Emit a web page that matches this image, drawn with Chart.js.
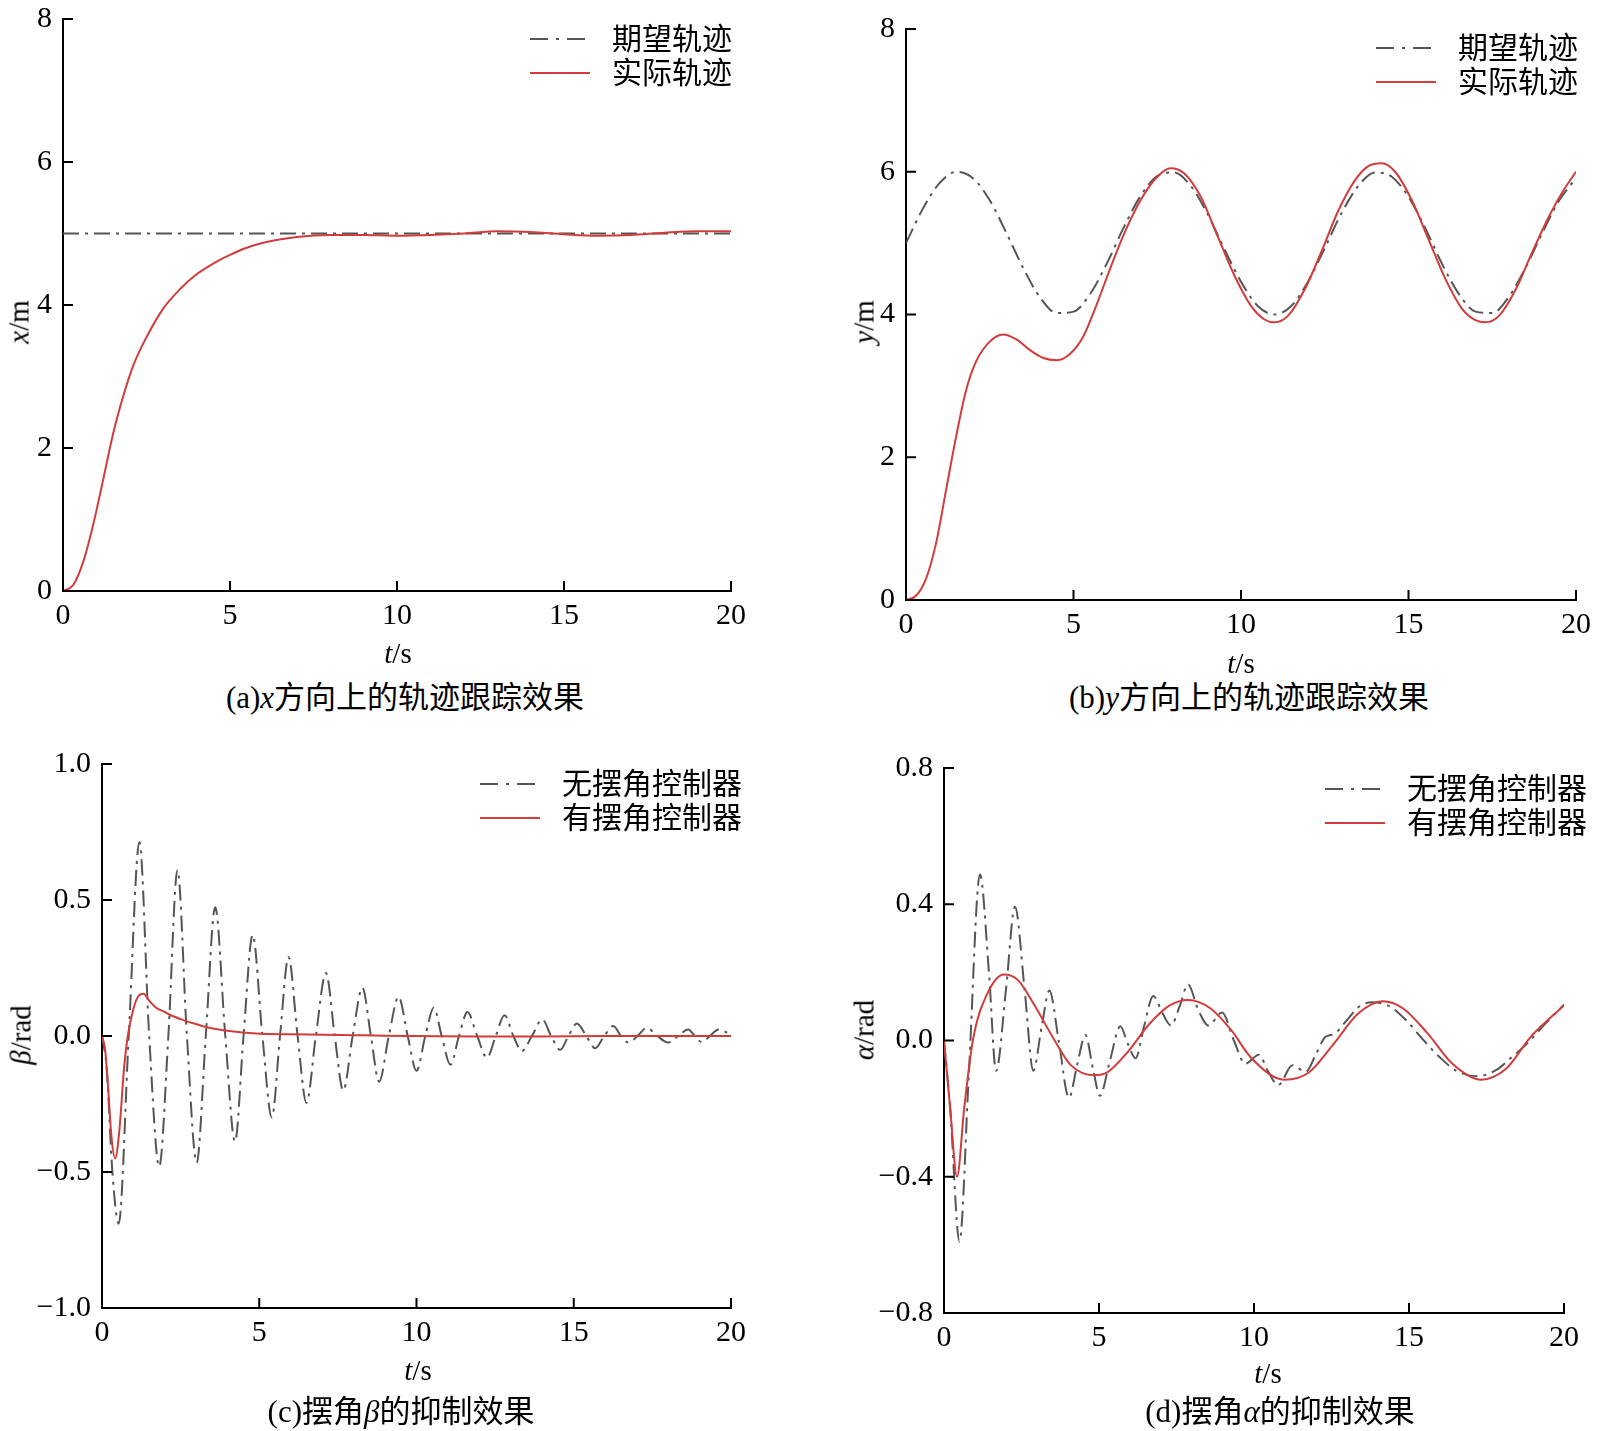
<!DOCTYPE html>
<html><head><meta charset="utf-8">
<script src="https://cdn.jsdelivr.net/npm/chart.js@4/dist/chart.umd.min.js"></script>
<style>
html,body{margin:0;padding:0;background:#fff;}
body{width:1598px;height:1431px;position:relative;overflow:hidden;font-family:"Liberation Serif","Noto Sans CJK SC",serif;color:#000;}
.box{position:absolute;}
.txt{position:absolute;white-space:nowrap;line-height:1;}
.cap{font-size:31px;transform:translate(-50%,-50%);}
.xt{font-size:29px;transform:translate(-50%,-50%);}
.yt{font-size:29px;transform:translate(-50%,-50%) rotate(-90deg);}
.leg{position:absolute;font-size:30px;line-height:1;white-space:nowrap;}
.leg .row{display:flex;align-items:center;height:34px;}
.leg svg{margin-right:22px;}
</style></head>
<body>
<div id="pa" class="box"><canvas id="ca"></canvas></div>
<div id="pb" class="box"><canvas id="cb"></canvas></div>
<div id="pc" class="box"><canvas id="cc"></canvas></div>
<div id="pd" class="box"><canvas id="cd"></canvas></div>

<div class="txt yt" style="left:19px;top:322px;"><i>x</i>/m</div>
<div class="txt yt" style="left:864px;top:322px;"><i>y</i>/m</div>
<div class="txt yt" style="left:21px;top:1035px;"><i>β</i>/rad</div>
<div class="txt yt" style="left:864px;top:1030px;"><i>α</i>/rad</div>

<div class="txt xt" style="left:398px;top:653px;"><i>t</i>/s</div>
<div class="txt xt" style="left:1241px;top:663px;"><i>t</i>/s</div>
<div class="txt xt" style="left:418px;top:1370px;"><i>t</i>/s</div>
<div class="txt xt" style="left:1268px;top:1373px;"><i>t</i>/s</div>

<div class="txt cap" style="left:405px;top:697px;">(a)<i>x</i>方向上的轨迹跟踪效果</div>
<div class="txt cap" style="left:1249px;top:697px;">(b)<i>y</i>方向上的轨迹跟踪效果</div>
<div class="txt cap" style="left:401px;top:1411px;">(c)摆角<i>β</i>的抑制效果</div>
<div class="txt cap" style="left:1280px;top:1411px;">(d)摆角<i>α</i>的抑制效果</div>

<div class="leg" style="left:530px;top:22px;">
 <div class="row"><svg width="60" height="4"><line x1="0" y1="2" x2="60" y2="2" stroke="#555" stroke-width="2" stroke-dasharray="18 8 3 8"/></svg>期望轨迹</div>
 <div class="row"><svg width="60" height="4"><line x1="0" y1="2" x2="60" y2="2" stroke="#d23c3c" stroke-width="2"/></svg>实际轨迹</div>
</div>
<div class="leg" style="left:1376px;top:31px;">
 <div class="row"><svg width="60" height="4"><line x1="0" y1="2" x2="60" y2="2" stroke="#555" stroke-width="2" stroke-dasharray="18 8 3 8"/></svg>期望轨迹</div>
 <div class="row"><svg width="60" height="4"><line x1="0" y1="2" x2="60" y2="2" stroke="#d23c3c" stroke-width="2"/></svg>实际轨迹</div>
</div>
<div class="leg" style="left:480px;top:767px;">
 <div class="row"><svg width="60" height="4"><line x1="0" y1="2" x2="60" y2="2" stroke="#555" stroke-width="2" stroke-dasharray="18 8 3 8"/></svg>无摆角控制器</div>
 <div class="row"><svg width="60" height="4"><line x1="0" y1="2" x2="60" y2="2" stroke="#d23c3c" stroke-width="2"/></svg>有摆角控制器</div>
</div>
<div class="leg" style="left:1325px;top:772px;">
 <div class="row"><svg width="60" height="4"><line x1="0" y1="2" x2="60" y2="2" stroke="#555" stroke-width="2" stroke-dasharray="18 8 3 8"/></svg>无摆角控制器</div>
 <div class="row"><svg width="60" height="4"><line x1="0" y1="2" x2="60" y2="2" stroke="#d23c3c" stroke-width="2"/></svg>有摆角控制器</div>
</div>

<script>
// ---------- data ----------
const xTicks = [0, 5, 10, 15, 20];
const posTicks = [0, 2, 4, 6, 8];
const betaTicks = [-1.0, -0.5, 0.0, 0.5, 1.0];
const alphaTicks = [-0.8, -0.4, 0.0, 0.4, 0.8];

// (a) x direction
const aDesiredT = [0, 20];
const aDesiredV = [5, 5];
const aActualT = [0, 0.3, 0.6, 0.9, 1.2, 1.5, 1.8, 2.1, 2.5, 3.0, 3.5, 4.0, 4.5, 5.0, 5.5, 6.0, 7.0, 8.0, 9.0, 10.0, 11.0, 12.0, 13.0, 14.0, 15.0, 16.0, 17.0, 18.0, 19.0, 20.0];
const aActualV = [0, 0.08, 0.4, 0.92, 1.55, 2.2, 2.72, 3.15, 3.55, 3.95, 4.22, 4.43, 4.58, 4.7, 4.8, 4.87, 4.95, 4.98, 4.98, 4.97, 4.98, 5.0, 5.03, 5.02, 4.99, 4.97, 4.98, 5.01, 5.03, 5.03];

// (b) y direction
const bDesiredT = [0, 0.5, 1, 1.5, 2, 2.5, 3, 3.5, 4, 4.5, 5, 5.5, 6, 6.5, 7, 7.5, 8, 8.5, 9, 9.5, 10, 10.5, 11, 11.5, 12, 12.5, 13, 13.5, 14, 14.5, 15, 15.5, 16, 16.5, 17, 17.5, 18, 18.5, 19, 19.5, 20];
const bDesiredV = [5.0, 5.48, 5.84, 6.0, 5.91, 5.6, 5.14, 4.65, 4.24, 4.02, 4.04, 4.29, 4.72, 5.22, 5.66, 5.94, 5.99, 5.8, 5.41, 4.92, 4.46, 4.12, 4.0, 4.12, 4.46, 4.93, 5.42, 5.8, 5.99, 5.93, 5.65, 5.21, 4.71, 4.29, 4.04, 4.02, 4.25, 4.66, 5.15, 5.6, 5.91];
const bActualT = [0, 0.3, 0.6, 0.9, 1.2, 1.5, 1.8, 2.1, 2.5, 2.9, 3.3, 3.7, 4.1, 4.5, 4.9, 5.3, 5.7, 6.1, 6.5, 7.0, 7.5, 7.9, 8.3, 8.8, 9.3, 9.8, 10.3, 10.7, 11.0, 11.4, 11.9, 12.4, 12.9, 13.4, 13.8, 14.2, 14.6, 15.1, 15.6, 16.1, 16.6, 17.0, 17.3, 17.7, 18.2, 18.7, 19.2, 19.6, 20.0];
const bActualV = [0, 0.06, 0.3, 0.8, 1.55, 2.3, 2.95, 3.35, 3.62, 3.72, 3.65, 3.5, 3.39, 3.36, 3.45, 3.7, 4.15, 4.65, 5.12, 5.6, 5.93, 6.05, 5.98, 5.65, 5.1, 4.55, 4.12, 3.93, 3.89, 3.98, 4.35, 4.88, 5.45, 5.88, 6.08, 6.12, 6.0, 5.6, 5.05, 4.5, 4.08, 3.92, 3.89, 3.98, 4.35, 4.88, 5.38, 5.72, 6.0];

// (c) swing angle beta
const cNoCtrlT = [0, 0.15, 0.33, 0.53, 0.85, 1.19, 1.5, 1.82, 2.11, 2.40, 2.7, 3.01, 3.3, 3.60, 3.92, 4.23, 4.5, 4.79, 5.1, 5.40, 5.66, 5.93, 6.22, 6.50, 6.8, 7.12, 7.4, 7.67, 7.97, 8.28, 8.55, 8.81, 9.12, 9.43, 9.72, 10.0, 10.28, 10.55, 10.8, 11.08, 11.35, 11.62, 11.93, 12.24, 12.52, 12.8, 13.08, 13.35, 13.67, 14.0, 14.28, 14.57, 14.83, 15.1, 15.4, 15.68, 15.97, 16.26, 16.5, 16.74, 17.03, 17.32, 17.66, 18.0, 18.32, 18.64, 18.85, 19.07, 19.33, 19.6, 20.0];
const cNoCtrlV = [0, -0.12, -0.5, -0.69, 0, 0.713, 0, -0.48, 0, 0.61, 0, -0.466, 0, 0.473, 0, -0.388, 0, 0.372, 0, -0.30, 0, 0.29, 0, -0.246, 0, 0.232, 0, -0.20, 0, 0.177, 0, -0.168, 0, 0.144, 0, -0.128, 0, 0.105, 0, -0.106, 0, 0.088, 0, -0.08, 0, 0.076, 0, -0.055, 0, 0.061, 0, -0.051, 0, 0.046, 0, -0.045, 0, 0.037, 0, -0.024, 0, 0.03, 0, -0.024, 0, 0.024, 0, -0.022, 0, 0.024, 0.005];
const cCtrlT = [0, 0.1, 0.2, 0.3, 0.42, 0.55, 0.7, 0.82, 1.0, 1.15, 1.32, 1.5, 1.72, 2.0, 2.14, 2.5, 2.78, 3.4, 4.05, 4.9, 6.0, 7.0, 8.0, 9.0, 10.0, 12.0, 14.0, 16.0, 18.0, 20.0];
const cCtrlV = [0, -0.05, -0.2, -0.37, -0.45, -0.35, -0.12, 0.0, 0.1, 0.145, 0.155, 0.13, 0.104, 0.088, 0.079, 0.062, 0.051, 0.03, 0.018, 0.009, 0.006, 0.005, 0.003, 0.001, 0, -0.002, -0.002, 0, 0, 0];

// (d) swing angle alpha
const dNoCtrlT = [0, 0.2, 0.5, 0.8, 1.16, 1.45, 1.68, 2.0, 2.29, 2.6, 2.88, 3.15, 3.4, 3.7, 4.03, 4.3, 4.56, 4.8, 5.03, 5.35, 5.69, 5.93, 6.18, 6.45, 6.75, 7.05, 7.32, 7.6, 7.87, 8.2, 8.53, 8.97, 9.35, 9.72, 10.16, 10.45, 10.78, 11.24, 11.67, 12.0, 12.3, 12.6, 13.0, 13.4, 13.82, 14.4, 14.9, 15.48, 16.0, 16.53, 17.2, 17.86, 18.3, 18.8, 19.4, 20.0];
const dNoCtrlV = [0, -0.2, -0.59, -0.1, 0.487, 0.2, -0.089, 0.15, 0.393, 0.15, -0.089, 0.04, 0.147, 0.0, -0.168, -0.07, 0.016, -0.08, -0.162, -0.06, 0.042, -0.01, -0.052, 0.04, 0.131, 0.08, 0.044, 0.1, 0.165, 0.09, 0.044, 0.082, 0.0, -0.068, -0.042, -0.09, -0.131, -0.073, -0.092, -0.04, 0.01, 0.02, 0.06, 0.1, 0.112, 0.099, 0.06, 0.0, -0.05, -0.089, -0.105, -0.084, -0.05, -0.01, 0.05, 0.105];
const dCtrlT = [0, 0.2, 0.42, 0.65, 0.93, 1.39, 1.94, 2.38, 2.91, 3.57, 4.1, 4.83, 5.29, 5.95, 6.61, 7.28, 7.87, 8.6, 9.26, 9.92, 10.98, 11.77, 12.57, 13.36, 14.15, 14.81, 15.6, 16.4, 17.33, 18.12, 18.92, 20.0];
const dCtrlV = [0, -0.2, -0.40, -0.2, 0.0, 0.136, 0.194, 0.178, 0.105, 0.0, -0.073, -0.102, -0.092, -0.031, 0.047, 0.103, 0.119, 0.094, 0.031, -0.052, -0.115, -0.094, -0.01, 0.079, 0.115, 0.094, 0.021, -0.068, -0.115, -0.084, 0.01, 0.103];

// ---------- drawing ----------
const RED = '#d23c3c', GRAY = '#555555';
const PADL = 70, PADT = 40, PADR = 40, PADB = 48;
const FONT = "'Liberation Serif', 'Times New Roman', serif";

const innerTicks = {
  id: 'innerTicks',
  afterDraw(chart) {
    const ctx = chart.ctx, ca = chart.chartArea;
    const xs = chart.scales.x, ys = chart.scales.y;
    ctx.save();
    ctx.strokeStyle = '#000';
    ctx.lineWidth = 2;
    xs.ticks.forEach(t => {
      const px = xs.getPixelForValue(t.value);
      ctx.beginPath(); ctx.moveTo(px, ca.bottom); ctx.lineTo(px, ca.bottom - 10); ctx.stroke();
    });
    ys.ticks.forEach(t => {
      const py = ys.getPixelForValue(t.value);
      ctx.beginPath(); ctx.moveTo(ca.left, py); ctx.lineTo(ca.left + 10, py); ctx.stroke();
    });
    ctx.restore();
  }
};

function pts(T, V) { return T.map((t, i) => ({ x: t, y: V[i] })); }

function fmtY(decimals) {
  return v => {
    if (Math.abs(v) < 1e-9) return decimals ? (0).toFixed(decimals) : '0';
    const s = Math.abs(v).toFixed(decimals);
    return v < 0 ? '\u2212' + s : s;
  };
}

function makePanel(boxId, canvasId, area, yT, decimals, actualT, actualV, refT, refV) {
  const box = document.getElementById(boxId);
  box.style.left = (area.l - PADL) + 'px';
  box.style.top = (area.t - PADT) + 'px';
  box.style.width = (area.r - area.l + PADL + PADR) + 'px';
  box.style.height = (area.b - area.t + PADT + PADB) + 'px';
  new Chart(document.getElementById(canvasId), {
    type: 'line',
    data: {
      datasets: [
        { data: pts(actualT, actualV), borderColor: RED, borderWidth: 2, pointRadius: 0, cubicInterpolationMode: 'monotone', fill: false },
        { data: pts(refT, refV), borderColor: GRAY, borderWidth: 2, borderDash: [16, 6, 3, 6], pointRadius: 0, cubicInterpolationMode: 'monotone', fill: false }
      ]
    },
    options: {
      responsive: true, maintainAspectRatio: false, animation: false,
      layout: { padding: { left: 0, top: PADT, right: PADR, bottom: 0 } },
      plugins: { legend: { display: false }, tooltip: { enabled: false } },
      scales: {
        x: {
          type: 'linear', min: xTicks[0], max: xTicks[xTicks.length - 1],
          afterFit: s => { s.height = PADB; },
          afterBuildTicks: s => { s.ticks = xTicks.map(v => ({ value: v })); },
          ticks: { color: '#000', font: { family: FONT, size: 30 }, padding: 7, maxRotation: 0, callback: v => String(v) },
          grid: { drawOnChartArea: false, drawTicks: false },
          border: { display: true, color: '#000', width: 2 }
        },
        y: {
          type: 'linear', min: yT[0], max: yT[yT.length - 1],
          afterFit: s => { s.width = PADL; },
          afterBuildTicks: s => { s.ticks = yT.map(v => ({ value: v })); },
          ticks: { color: '#000', font: { family: FONT, size: 30 }, padding: 11, callback: fmtY(decimals) },
          grid: { drawOnChartArea: false, drawTicks: false },
          border: { display: true, color: '#000', width: 2 }
        }
      }
    },
    plugins: [innerTicks]
  });
}

makePanel('pa', 'ca', { l: 63, r: 731, t: 19, b: 591 }, posTicks, 0, aActualT, aActualV, aDesiredT, aDesiredV);
makePanel('pb', 'cb', { l: 906, r: 1576, t: 29, b: 600 }, posTicks, 0, bActualT, bActualV, bDesiredT, bDesiredV);
makePanel('pc', 'cc', { l: 102, r: 731, t: 764, b: 1308 }, betaTicks, 1, cCtrlT, cCtrlV, cNoCtrlT, cNoCtrlV);
makePanel('pd', 'cd', { l: 944, r: 1564, t: 768, b: 1313 }, alphaTicks, 1, dCtrlT, dCtrlV, dNoCtrlT, dNoCtrlV);
</script>
</body></html>
